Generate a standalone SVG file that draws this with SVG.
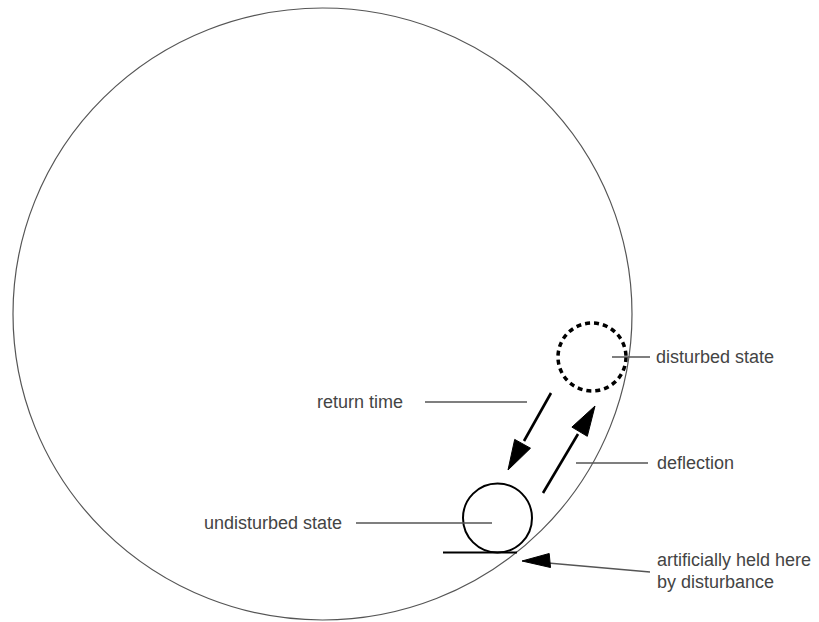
<svg xmlns="http://www.w3.org/2000/svg" width="819" height="622" viewBox="0 0 819 622">
<style>
.lbl{font-family:"Liberation Sans",Arial,sans-serif;font-size:18px;fill:#444}
.leader{stroke:#555;stroke-width:1.3;fill:none}
.arrow{stroke:#000;stroke-width:2.6;fill:none}
.head{fill:#000;stroke:#000;stroke-width:1}
</style>
<rect width="819" height="622" fill="#fff"/>
<g id="basin">
<ellipse cx="322.5" cy="314" rx="309.5" ry="306" fill="none" stroke="#555" stroke-width="1.2"/>
</g>
<g id="disturbed">
<circle cx="592" cy="357" r="34" fill="none" stroke="#000" stroke-width="3.5" stroke-dasharray="5 4"/>
<text class="lbl" x="656" y="363">disturbed state</text>
</g>
<g id="undisturbed">
<circle cx="497.5" cy="518" r="34.5" fill="none" stroke="#000" stroke-width="2"/>
<line x1="443" y1="552.5" x2="517" y2="552.5" stroke="#000" stroke-width="2"/>
<text class="lbl" x="342" y="529" text-anchor="end">undisturbed state</text>
</g>
<g id="return-time">
<text class="lbl" x="317" y="408">return time</text>
</g>
<g id="deflection">
<text class="lbl" x="657" y="469">deflection</text>
</g>
<g id="held">
<text class="lbl" x="657" y="566">artificially held here</text>
<text class="lbl" x="657" y="588">by disturbance</text>
</g>
<g id="connectors">
<line class="leader" x1="612" y1="357" x2="650" y2="357"/>
<line class="leader" x1="425" y1="402" x2="527" y2="402"/>
<line class="leader" x1="356" y1="523" x2="492" y2="523"/>
<line class="leader" x1="576" y1="463" x2="648" y2="463"/>
<line class="arrow" x1="551" y1="393" x2="524" y2="441"/>
<polygon class="head" points="508,470 530.5,448.2 514.7,439.4"/>
<line class="arrow" x1="543" y1="493" x2="578" y2="434"/>
<polygon class="head" points="595,406 587.3,436.3 571.9,427.1"/>
<line class="leader" x1="650" y1="572" x2="548" y2="563" stroke-width="1.5"/>
<polygon class="head" points="522,561 550.5,567.5 549.2,553.5"/>
</g>
</svg>
